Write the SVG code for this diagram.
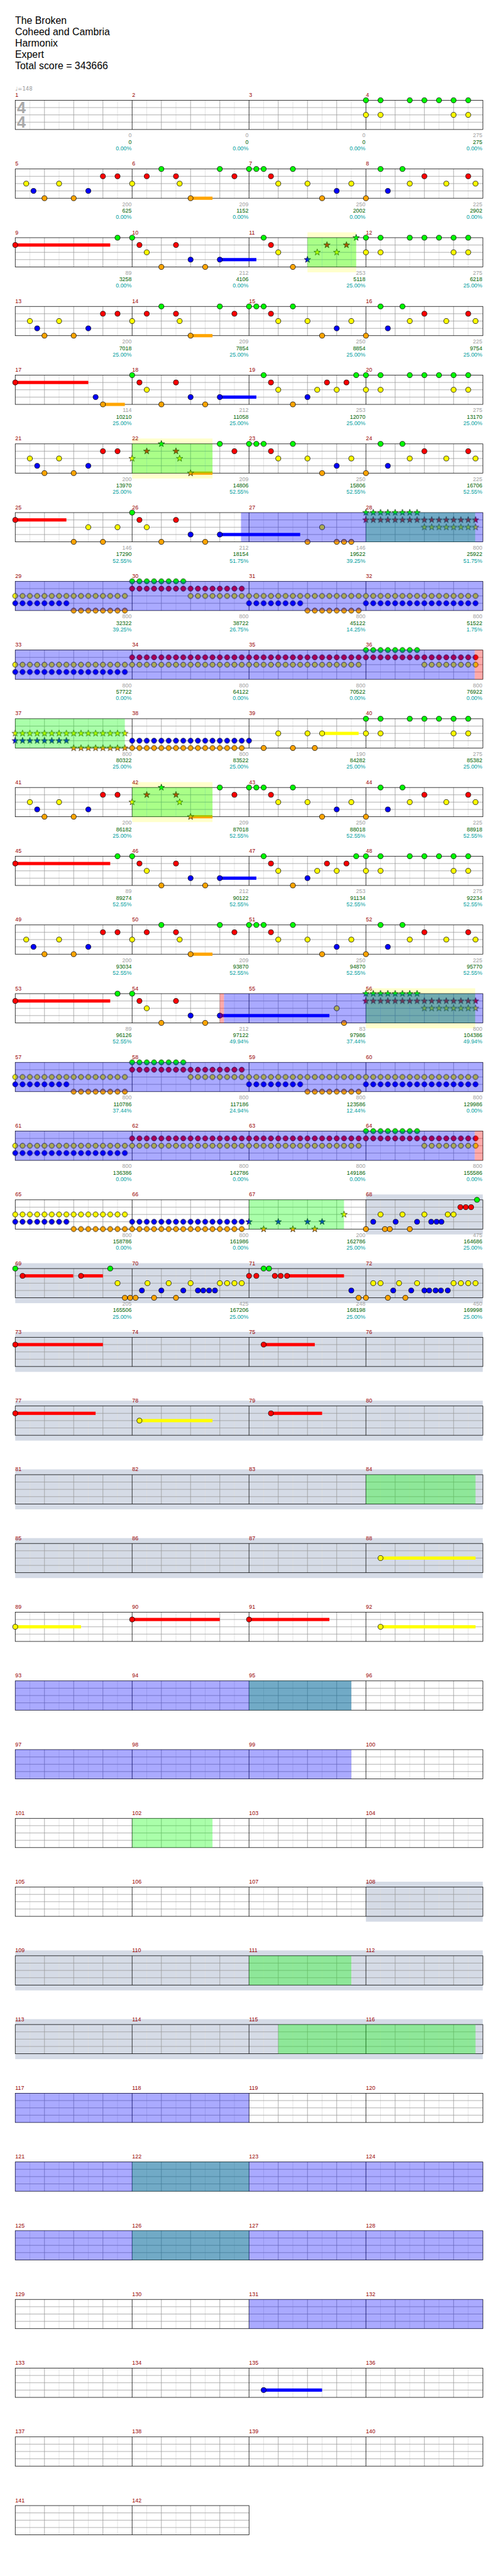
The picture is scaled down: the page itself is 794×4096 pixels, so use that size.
<svg xmlns="http://www.w3.org/2000/svg" width="794" height="4096" viewBox="0 0 794 4096">
<style>
text{font-family:"Liberation Sans",Arial,sans-serif;font-size:11.5px}
.hd{font-size:20.5px;fill:#000}
.n{fill:#900}
.c{fill:#a0a0a0;text-anchor:end}
.s{fill:#006400;text-anchor:end}
.p{fill:#00a0a0;text-anchor:end}
.l1{stroke:#ddd;fill:none}
.l2{stroke:#999;fill:none}
.l3{stroke:#000;fill:none}
.fr{fill:none;stroke:#000}
.ov{fill:#00f;fill-opacity:.333}
.sp{fill:#0f0;fill-opacity:.333}
.ro{fill:#f00;fill-opacity:.333}
.ph{fill:#ffc}
.sl{fill:#d5dbe6}
.sr{fill:#f00}.so{fill:#ffa500}.sb{fill:#00f}.sy{fill:#ff0}
.kG{fill:url(#pG)}.kR{fill:url(#pR)}.kY{fill:url(#pY)}.kB{fill:url(#pB)}.kO{fill:url(#pO)}
.zG{fill:url(#qG)}.zR{fill:url(#qR)}.zY{fill:url(#qY)}.zB{fill:url(#qB)}.zO{fill:url(#qO)}
</style>
<defs>
<circle id="c" r="5.2" stroke="#000"/>
<use id="G" href="#c" fill="#0f0"/>
<use id="R" href="#c" y="15" fill="#f00"/>
<use id="Y" href="#c" y="30" fill="#ff0"/>
<use id="B" href="#c" y="45" fill="#00f"/>
<use id="O" href="#c" y="60" fill="#ffa500"/>
<path id="s" d="M0-7L1.65-2.27 6.66-2.16 2.66.87 4.11 5.66 0 2.8-4.11 5.66-2.66.87-6.66-2.16-1.65-2.27Z" stroke="#000" stroke-width=".8"/>
<use id="sG" href="#s" fill="#0f0"/>
<use id="sR" href="#s" y="15" fill="#f00"/>
<use id="sY" href="#s" y="30" fill="#ff0"/>
<use id="sB" href="#s" y="45" fill="#00f"/>
<use id="sO" href="#s" y="60" fill="#ffa500"/>
<pattern id="pG" width="15" height="15" x="-7.5" y="-7.5" patternUnits="userSpaceOnUse"><use href="#c" x="7.5" y="7.5" fill="#0f0"/></pattern>
<pattern id="pR" width="15" height="15" x="-7.5" y="-7.5" patternUnits="userSpaceOnUse"><use href="#c" x="7.5" y="7.5" fill="#f00"/></pattern>
<pattern id="pY" width="15" height="15" x="-7.5" y="-7.5" patternUnits="userSpaceOnUse"><use href="#c" x="7.5" y="7.5" fill="#ff0"/></pattern>
<pattern id="pB" width="15" height="15" x="-7.5" y="-7.5" patternUnits="userSpaceOnUse"><use href="#c" x="7.5" y="7.5" fill="#00f"/></pattern>
<pattern id="pO" width="15" height="15" x="-7.5" y="-7.5" patternUnits="userSpaceOnUse"><use href="#c" x="7.5" y="7.5" fill="#ffa500"/></pattern>
<pattern id="qG" width="15" height="15" x="-7.5" y="-7.5" patternUnits="userSpaceOnUse"><use href="#s" x="7.5" y="7.5" fill="#0f0"/></pattern>
<pattern id="qR" width="15" height="15" x="-7.5" y="-7.5" patternUnits="userSpaceOnUse"><use href="#s" x="7.5" y="7.5" fill="#f00"/></pattern>
<pattern id="qY" width="15" height="15" x="-7.5" y="-7.5" patternUnits="userSpaceOnUse"><use href="#s" x="7.5" y="7.5" fill="#ff0"/></pattern>
<pattern id="qB" width="15" height="15" x="-7.5" y="-7.5" patternUnits="userSpaceOnUse"><use href="#s" x="7.5" y="7.5" fill="#00f"/></pattern>
<pattern id="qO" width="15" height="15" x="-7.5" y="-7.5" patternUnits="userSpaceOnUse"><use href="#s" x="7.5" y="7.5" fill="#ffa500"/></pattern>
<g id="h"><path class="l1" d="M30 0v60M90 0v60M150 0v60M210 0v60M270 0v60M330 0v60M390 0v60M450 0v60"/><path class="l2" d="M60 0v60M120 0v60M180 0v60M300 0v60M360 0v60M420 0v60M0 15h480M0 30h480M0 45h480"/><path class="l3" d="M240 0v60"/></g>
<g id="st"><use href="#h"/><use href="#h" x="480"/><path class="l3" d="M480 0v60"/><rect class="fr" width="960" height="60"/></g>
<g id="st2"><use href="#h"/><rect class="fr" width="480" height="60"/></g>
<g id="a1"><use href="#O" x="60"/><use href="#Y" x="90"/><use href="#O" x="120"/><use href="#B" x="150"/><use href="#R" x="180"/><use href="#R" x="210"/></g>
<g id="a2"><rect class="so" x="360" y="56.7" width="45" height="6.6"/><use href="#Y" x="240"/><use href="#R" x="270"/><use href="#G" x="300"/><use href="#R" x="330"/><use href="#Y" x="337.5"/><use href="#O" x="360"/></g>
<g id="a2s"><rect class="so" x="360" y="56.7" width="45" height="6.6"/><use href="#sY" x="240"/><use href="#sR" x="270"/><use href="#sG" x="300"/><use href="#sR" x="330"/><use href="#sY" x="337.5"/><use href="#sO" x="360"/><rect class="sp" x="240" width="165" height="60"/></g>
<g id="a3"><use href="#G" x="420"/><use href="#R" x="450"/><use href="#G" x="480"/><use href="#G" x="495"/><use href="#G" x="510"/><use href="#R" x="525"/><use href="#Y" x="540"/><use href="#G" x="570"/><use href="#Y" x="600"/><use href="#O" x="630"/><use href="#B" x="660"/><use href="#Y" x="690"/><use href="#O" x="720"/><use href="#G" x="750"/><use href="#B" x="765"/><use href="#G" x="795"/><use href="#Y" x="810"/><use href="#R" x="840"/><use href="#Y" x="885"/><use href="#R" x="930"/><use href="#Y" x="945"/></g>
<g id="b2"><use href="#G" x="240"/><use href="#R" x="255"/><use href="#Y" x="270"/><use href="#O" x="300"/><use href="#R" x="330"/><use href="#B" x="360"/><use href="#O" x="390"/><use href="#B" x="420"/></g>
<g id="cc"><use href="#G" x="510"/><use href="#R" x="525"/><use href="#Y" x="540"/><use href="#O" x="570"/></g>
<g id="c2"><use href="#B" x="600"/><use href="#Y" x="620"/><use href="#R" x="640"/><use href="#Y" x="660"/><use href="#R" x="680"/><use href="#G" x="700"/></g>
<g id="c2s"><use href="#sB" x="600"/><use href="#sY" x="620"/><use href="#sR" x="640"/><use href="#sY" x="660"/><use href="#sR" x="680"/><use href="#sG" x="700"/><rect class="sp" x="600" width="100" height="60"/></g>
<g id="q"><use href="#G" x="720"/><use href="#G" x="750"/><use href="#G" x="810"/><use href="#G" x="840"/><use href="#G" x="870"/><use href="#G" x="900"/><use href="#G" x="930"/><use href="#Y" x="720"/><use href="#Y" x="750"/><use href="#Y" x="900"/><use href="#Y" x="930"/></g>
<g id="t"><rect class="zG" x="712.5" y="-7.5" width="120" height="15"/><rect class="zR" x="712.5" y="7.5" width="240" height="15"/><rect class="zY" x="832.5" y="22.5" width="120" height="15"/><rect class="sp" x="720" width="224.4" height="60"/></g>
<g id="w7"><rect class="kY" x="-7.5" y="22.5" width="240" height="15"/><rect class="kY" x="352.5" y="22.5" width="600" height="15"/><rect class="kB" x="-7.5" y="37.5" width="120" height="15"/><rect class="kB" x="472.5" y="37.5" width="120" height="15"/><rect class="kB" x="712.5" y="37.5" width="240" height="15"/><rect class="kO" x="112.5" y="52.5" width="120" height="15"/><rect class="kO" x="592.5" y="52.5" width="120" height="15"/><rect class="kR" x="232.5" y="7.5" width="240" height="15"/><rect class="kG" x="232.5" y="-7.5" width="120" height="15"/><rect class="ov" width="960" height="60"/></g>
<g id="w8"><rect class="kY" x="-7.5" y="22.5" width="720" height="15"/><rect class="kY" x="832.5" y="22.5" width="120" height="15"/><rect class="kB" x="-7.5" y="37.5" width="240" height="15"/><rect class="kR" x="232.5" y="7.5" width="720" height="15"/><rect class="kG" x="712.5" y="-7.5" width="120" height="15"/><rect class="ov" width="943.5" height="60"/><rect class="ro" x="943.5" width="16.5" height="60"/></g>
</defs>
<rect width="794" height="4096" fill="#fff"/>
<g transform="scale(.775)">
<g id="header">
<text class="hd" x="31" y="49.5">The Broken</text>
<text class="hd" x="31" y="72.5">Coheed and Cambria</text>
<text class="hd" x="31" y="95.5">Harmonix</text>
<text class="hd" x="31" y="118.5">Expert</text>
<text class="hd" x="31" y="141.5">Total score = 343666</text>
</g>
<g id="r0" transform="translate(31.3,205.7)">
<use href="#st"/>
<text x="3.7" y="26" style="font-size:32.5px;font-weight:bold;fill:#aaa">4</text>
<text x="3.7" y="56.5" style="font-size:32.5px;font-weight:bold;fill:#aaa">4</text>
<text x="0" y="-20" style="fill:#999;font-family:'DejaVu Sans',sans-serif;font-size:11px">♩=148</text>
<use href="#q"/>
<text class="n" y="-7"><tspan x="0">1</tspan><tspan x="240">2</tspan><tspan x="480">3</tspan><tspan x="720">4</tspan></text>
<text class="c" y="76"><tspan x="239">0</tspan><tspan x="479">0</tspan><tspan x="719">0</tspan><tspan x="959">275</tspan></text>
<text class="s" y="89.5"><tspan x="239">0</tspan><tspan x="479">0</tspan><tspan x="719">0</tspan><tspan x="959">275</tspan></text>
<text class="p" y="102.5"><tspan x="239">0.00%</tspan><tspan x="479">0.00%</tspan><tspan x="719">0.00%</tspan><tspan x="959">0.00%</tspan></text>
</g>
<g id="r1" transform="translate(31.3,346.7)">
<use href="#st"/><use href="#Y" x="22.5"/><use href="#B" x="37.5"/><use href="#a1"/><use href="#a2"/><use href="#a3"/>
<text class="n" y="-7"><tspan x="0">5</tspan><tspan x="240">6</tspan><tspan x="480">7</tspan><tspan x="720">8</tspan></text>
<text class="c" y="76"><tspan x="239">200</tspan><tspan x="479">209</tspan><tspan x="719">250</tspan><tspan x="959">225</tspan></text>
<text class="s" y="89.5"><tspan x="239">625</tspan><tspan x="479">1152</tspan><tspan x="719">2002</tspan><tspan x="959">2902</tspan></text>
<text class="p" y="102.5"><tspan x="239">0.00%</tspan><tspan x="479">0.00%</tspan><tspan x="719">0.00%</tspan><tspan x="959">0.00%</tspan></text>
</g>
<g id="r2" transform="translate(31.3,487.7)">
<rect class="ph" x="600" y="-11" width="100" height="82"/>
<use href="#st"/>
<rect class="sr" x="0" y="11.7" width="195" height="6.6"/><rect class="sb" x="420" y="41.7" width="75" height="6.6"/>
<use href="#R" x="0"/><use href="#G" x="210"/><use href="#b2"/><use href="#cc"/><use href="#c2s"/><use href="#q"/>
<text class="n" y="-7"><tspan x="0">9</tspan><tspan x="240">10</tspan><tspan x="480">11</tspan><tspan x="720">12</tspan></text>
<text class="c" y="76"><tspan x="239">89</tspan><tspan x="479">212</tspan><tspan x="719">253</tspan><tspan x="959">275</tspan></text>
<text class="s" y="89.5"><tspan x="239">3258</tspan><tspan x="479">4106</tspan><tspan x="719">5118</tspan><tspan x="959">6218</tspan></text>
<text class="p" y="102.5"><tspan x="239">0.00%</tspan><tspan x="479">0.00%</tspan><tspan x="719">25.00%</tspan><tspan x="959">25.00%</tspan></text>
</g>
<g id="r3" transform="translate(31.3,628.7)">
<use href="#st"/><use href="#Y" x="30"/><use href="#B" x="45"/><use href="#a1"/><use href="#a2"/><use href="#a3"/>
<text class="n" y="-7"><tspan x="0">13</tspan><tspan x="240">14</tspan><tspan x="480">15</tspan><tspan x="720">16</tspan></text>
<text class="c" y="76"><tspan x="239">200</tspan><tspan x="479">209</tspan><tspan x="719">250</tspan><tspan x="959">225</tspan></text>
<text class="s" y="89.5"><tspan x="239">7018</tspan><tspan x="479">7854</tspan><tspan x="719">8854</tspan><tspan x="959">9754</tspan></text>
<text class="p" y="102.5"><tspan x="239">25.00%</tspan><tspan x="479">25.00%</tspan><tspan x="719">25.00%</tspan><tspan x="959">25.00%</tspan></text>
</g>
<g id="r4" transform="translate(31.3,769.7)">
<use href="#st"/>
<rect class="sr" x="0" y="11.7" width="150" height="6.6"/><rect class="so" x="180" y="56.7" width="45" height="6.6"/><rect class="sb" x="420" y="41.7" width="75" height="6.6"/>
<use href="#R" x="0"/><use href="#B" x="165"/><use href="#O" x="180"/><use href="#b2"/><use href="#cc"/><use href="#c2"/><use href="#q"/>
<text class="n" y="-7"><tspan x="0">17</tspan><tspan x="240">18</tspan><tspan x="480">19</tspan><tspan x="720">20</tspan></text>
<text class="c" y="76"><tspan x="239">114</tspan><tspan x="479">212</tspan><tspan x="719">253</tspan><tspan x="959">275</tspan></text>
<text class="s" y="89.5"><tspan x="239">10210</tspan><tspan x="479">11058</tspan><tspan x="719">12070</tspan><tspan x="959">13170</tspan></text>
<text class="p" y="102.5"><tspan x="239">25.00%</tspan><tspan x="479">25.00%</tspan><tspan x="719">25.00%</tspan><tspan x="959">25.00%</tspan></text>
</g>
<g id="r5" transform="translate(31.3,910.7)">
<rect class="ph" x="240" y="-11" width="165" height="82"/>
<use href="#st"/><use href="#Y" x="30"/><use href="#B" x="45"/><use href="#a1"/><use href="#a2s"/><use href="#a3"/>
<text class="n" y="-7"><tspan x="0">21</tspan><tspan x="240">22</tspan><tspan x="480">23</tspan><tspan x="720">24</tspan></text>
<text class="c" y="76"><tspan x="239">200</tspan><tspan x="479">209</tspan><tspan x="719">250</tspan><tspan x="959">225</tspan></text>
<text class="s" y="89.5"><tspan x="239">13970</tspan><tspan x="479">14806</tspan><tspan x="719">15806</tspan><tspan x="959">16706</tspan></text>
<text class="p" y="102.5"><tspan x="239">25.00%</tspan><tspan x="479">52.55%</tspan><tspan x="719">52.55%</tspan><tspan x="959">52.55%</tspan></text>
</g>
<g id="r6" transform="translate(31.3,1051.7)">
<use href="#st"/>
<rect class="sr" x="0" y="11.7" width="105" height="6.6"/><rect class="sb" x="420" y="41.7" width="165" height="6.6"/>
<use href="#R" x="0"/><use href="#O" x="120"/><use href="#Y" x="150"/><use href="#O" x="180"/><use href="#Y" x="210"/><use href="#b2"/><use href="#O" x="600"/><use href="#Y" x="630"/><use href="#O" x="660"/><use href="#O" x="675"/><use href="#O" x="690"/><use href="#t"/>
<rect class="ov" x="463.5" width="496.5" height="60"/>
<text class="n" y="-7"><tspan x="0">25</tspan><tspan x="240">26</tspan><tspan x="480">27</tspan><tspan x="720">28</tspan></text>
<text class="c" y="76"><tspan x="239">146</tspan><tspan x="479">212</tspan><tspan x="719">146</tspan><tspan x="959">800</tspan></text>
<text class="s" y="89.5"><tspan x="239">17290</tspan><tspan x="479">18154</tspan><tspan x="719">19522</tspan><tspan x="959">25922</tspan></text>
<text class="p" y="102.5"><tspan x="239">52.55%</tspan><tspan x="479">51.75%</tspan><tspan x="719">39.25%</tspan><tspan x="959">51.75%</tspan></text>
</g>
<g id="r7" transform="translate(31.3,1192.7)">
<use href="#st"/><use href="#w7"/>
<text class="n" y="-7"><tspan x="0">29</tspan><tspan x="240">30</tspan><tspan x="480">31</tspan><tspan x="720">32</tspan></text>
<text class="c" y="76"><tspan x="239">800</tspan><tspan x="479">800</tspan><tspan x="719">800</tspan><tspan x="959">800</tspan></text>
<text class="s" y="89.5"><tspan x="239">32322</tspan><tspan x="479">38722</tspan><tspan x="719">45122</tspan><tspan x="959">51522</tspan></text>
<text class="p" y="102.5"><tspan x="239">39.25%</tspan><tspan x="479">26.75%</tspan><tspan x="719">14.25%</tspan><tspan x="959">1.75%</tspan></text>
</g>
<g id="r8" transform="translate(31.3,1333.7)">
<use href="#st"/><use href="#w8"/>
<text class="n" y="-7"><tspan x="0">33</tspan><tspan x="240">34</tspan><tspan x="480">35</tspan><tspan x="720">36</tspan></text>
<text class="c" y="76"><tspan x="239">800</tspan><tspan x="479">800</tspan><tspan x="719">800</tspan><tspan x="959">800</tspan></text>
<text class="s" y="89.5"><tspan x="239">57722</tspan><tspan x="479">64122</tspan><tspan x="719">70522</tspan><tspan x="959">76922</tspan></text>
<text class="p" y="102.5"><tspan x="239">0.00%</tspan><tspan x="479">0.00%</tspan><tspan x="719">0.00%</tspan><tspan x="959">0.00%</tspan></text>
</g>
<g id="r9" transform="translate(31.3,1474.7)">
<use href="#st"/>
<rect class="zY" x="-7.5" y="22.5" width="240" height="15"/><rect class="zB" x="-7.5" y="37.5" width="120" height="15"/><rect class="zO" x="112.5" y="52.5" width="120" height="15"/><rect class="sp" x="0" width="225" height="60"/>
<rect class="kB" x="232.5" y="37.5" width="255" height="15"/><rect class="kO" x="232.5" y="52.5" width="240" height="15"/>
<rect class="sy" x="630" y="26.7" width="75" height="6.6"/>
<use href="#O" x="510"/><use href="#Y" x="540"/><use href="#O" x="570"/><use href="#Y" x="600"/><use href="#O" x="615"/><use href="#Y" x="630"/><use href="#q"/>
<text class="n" y="-7"><tspan x="0">37</tspan><tspan x="240">38</tspan><tspan x="480">39</tspan><tspan x="720">40</tspan></text>
<text class="c" y="76"><tspan x="239">800</tspan><tspan x="479">800</tspan><tspan x="719">190</tspan><tspan x="959">275</tspan></text>
<text class="s" y="89.5"><tspan x="239">80322</tspan><tspan x="479">83522</tspan><tspan x="719">84282</tspan><tspan x="959">85382</tspan></text>
<text class="p" y="102.5"><tspan x="239">25.00%</tspan><tspan x="479">25.00%</tspan><tspan x="719">25.00%</tspan><tspan x="959">25.00%</tspan></text>
</g>
<g id="r10" transform="translate(31.3,1615.7)">
<rect class="ph" x="240" y="-11" width="165" height="82"/>
<use href="#st"/><use href="#Y" x="30"/><use href="#B" x="45"/><use href="#a1"/><use href="#a2s"/><use href="#a3"/>
<text class="n" y="-7"><tspan x="0">41</tspan><tspan x="240">42</tspan><tspan x="480">43</tspan><tspan x="720">44</tspan></text>
<text class="c" y="76"><tspan x="239">200</tspan><tspan x="479">209</tspan><tspan x="719">250</tspan><tspan x="959">225</tspan></text>
<text class="s" y="89.5"><tspan x="239">86182</tspan><tspan x="479">87018</tspan><tspan x="719">88018</tspan><tspan x="959">88918</tspan></text>
<text class="p" y="102.5"><tspan x="239">25.00%</tspan><tspan x="479">52.55%</tspan><tspan x="719">52.55%</tspan><tspan x="959">52.55%</tspan></text>
</g>
<g id="r11" transform="translate(31.3,1756.7)">
<use href="#st"/>
<rect class="sr" x="0" y="11.7" width="195" height="6.6"/><rect class="sb" x="420" y="41.7" width="75" height="6.6"/>
<use href="#R" x="0"/><use href="#G" x="210"/><use href="#b2"/><use href="#cc"/><use href="#c2"/><use href="#q"/>
<text class="n" y="-7"><tspan x="0">45</tspan><tspan x="240">46</tspan><tspan x="480">47</tspan><tspan x="720">48</tspan></text>
<text class="c" y="76"><tspan x="239">89</tspan><tspan x="479">212</tspan><tspan x="719">253</tspan><tspan x="959">275</tspan></text>
<text class="s" y="89.5"><tspan x="239">89274</tspan><tspan x="479">90122</tspan><tspan x="719">91134</tspan><tspan x="959">92234</tspan></text>
<text class="p" y="102.5"><tspan x="239">52.55%</tspan><tspan x="479">52.55%</tspan><tspan x="719">52.55%</tspan><tspan x="959">52.55%</tspan></text>
</g>
<g id="r12" transform="translate(31.3,1897.7)">
<use href="#st"/><use href="#Y" x="22.5"/><use href="#B" x="37.5"/><use href="#a1"/><use href="#a2"/><use href="#a3"/>
<text class="n" y="-7"><tspan x="0">49</tspan><tspan x="240">50</tspan><tspan x="480">51</tspan><tspan x="720">52</tspan></text>
<text class="c" y="76"><tspan x="239">200</tspan><tspan x="479">209</tspan><tspan x="719">250</tspan><tspan x="959">225</tspan></text>
<text class="s" y="89.5"><tspan x="239">93034</tspan><tspan x="479">93870</tspan><tspan x="719">94870</tspan><tspan x="959">95770</tspan></text>
<text class="p" y="102.5"><tspan x="239">52.55%</tspan><tspan x="479">52.55%</tspan><tspan x="719">52.55%</tspan><tspan x="959">52.55%</tspan></text>
</g>
<g id="r13" transform="translate(31.3,2038.7)">
<rect class="ph" x="720" y="-11" width="224.4" height="82"/>
<use href="#st"/>
<rect class="sr" x="0" y="11.7" width="195" height="6.6"/><rect class="sb" x="420" y="41.7" width="225" height="6.6"/>
<use href="#R" x="0"/><use href="#G" x="210"/><use href="#b2"/><use href="#Y" x="660"/><use href="#O" x="675"/><use href="#t"/>
<rect class="ro" x="420" width="8.6" height="60"/><rect class="ov" x="428.6" width="531.4" height="60"/>
<text class="n" y="-7"><tspan x="0">53</tspan><tspan x="240">54</tspan><tspan x="480">55</tspan><tspan x="720">56</tspan></text>
<text class="c" y="76"><tspan x="239">89</tspan><tspan x="479">212</tspan><tspan x="719">83</tspan><tspan x="959">800</tspan></text>
<text class="s" y="89.5"><tspan x="239">96126</tspan><tspan x="479">97122</tspan><tspan x="719">97986</tspan><tspan x="959">104386</tspan></text>
<text class="p" y="102.5"><tspan x="239">52.55%</tspan><tspan x="479">49.94%</tspan><tspan x="719">37.44%</tspan><tspan x="959">49.94%</tspan></text>
</g>
<g id="r14" transform="translate(31.3,2179.7)">
<use href="#st"/><use href="#w7"/>
<text class="n" y="-7"><tspan x="0">57</tspan><tspan x="240">58</tspan><tspan x="480">59</tspan><tspan x="720">60</tspan></text>
<text class="c" y="76"><tspan x="239">800</tspan><tspan x="479">800</tspan><tspan x="719">800</tspan><tspan x="959">800</tspan></text>
<text class="s" y="89.5"><tspan x="239">110786</tspan><tspan x="479">117186</tspan><tspan x="719">123586</tspan><tspan x="959">129986</tspan></text>
<text class="p" y="102.5"><tspan x="239">37.44%</tspan><tspan x="479">24.94%</tspan><tspan x="719">12.44%</tspan><tspan x="959">0.00%</tspan></text>
</g>
<g id="r15" transform="translate(31.3,2320.7)">
<use href="#st"/><use href="#w8"/>
<text class="n" y="-7"><tspan x="0">61</tspan><tspan x="240">62</tspan><tspan x="480">63</tspan><tspan x="720">64</tspan></text>
<text class="c" y="76"><tspan x="239">800</tspan><tspan x="479">800</tspan><tspan x="719">800</tspan><tspan x="959">800</tspan></text>
<text class="s" y="89.5"><tspan x="239">136386</tspan><tspan x="479">142786</tspan><tspan x="719">149186</tspan><tspan x="959">155586</tspan></text>
<text class="p" y="102.5"><tspan x="239">0.00%</tspan><tspan x="479">0.00%</tspan><tspan x="719">0.00%</tspan><tspan x="959">0.00%</tspan></text>
</g>
<g id="r16" transform="translate(31.3,2461.7)">
<rect class="sl" x="720" y="-11" width="240" height="82"/>
<use href="#st"/>
<rect class="kY" x="-7.5" y="22.5" width="240" height="15"/><rect class="kB" x="-7.5" y="37.5" width="120" height="15"/><rect class="kO" x="112.5" y="52.5" width="120" height="15"/><rect class="kB" x="232.5" y="37.5" width="240" height="15"/><rect class="kO" x="232.5" y="52.5" width="240" height="15"/>
<use href="#sB" x="480"/><use href="#sB" x="540"/><use href="#sB" x="600"/><use href="#sB" x="630"/><use href="#sO" x="510"/><use href="#sO" x="570"/><use href="#sO" x="615"/><use href="#sY" x="675"/><rect class="sp" x="480" width="195" height="60"/>
<use href="#O" x="720"/><use href="#B" x="735"/><use href="#Y" x="750"/><use href="#O" x="759"/><use href="#O" x="769"/><use href="#B" x="781"/><use href="#Y" x="795"/><use href="#O" x="810"/><use href="#B" x="825"/><use href="#Y" x="840"/><use href="#B" x="854"/><use href="#B" x="865"/><use href="#B" x="875"/><use href="#Y" x="888"/><use href="#Y" x="900"/><use href="#R" x="914"/><use href="#R" x="925"/><use href="#R" x="936"/><use href="#G" x="948"/>
<text class="n" y="-7"><tspan x="0">65</tspan><tspan x="240">66</tspan><tspan x="480">67</tspan><tspan x="720">68</tspan></text>
<text class="c" y="76"><tspan x="239">800</tspan><tspan x="479">800</tspan><tspan x="719">200</tspan><tspan x="959">475</tspan></text>
<text class="s" y="89.5"><tspan x="239">158786</tspan><tspan x="479">161986</tspan><tspan x="719">162786</tspan><tspan x="959">164686</tspan></text>
<text class="p" y="102.5"><tspan x="239">0.00%</tspan><tspan x="479">0.00%</tspan><tspan x="719">25.00%</tspan><tspan x="959">25.00%</tspan></text>
</g>
<g id="r17" transform="translate(31.3,2602.7)">
<rect class="sl" x="0" y="-11" width="960" height="82"/>
<use href="#st"/>
<rect class="sr" x="15" y="11.7" width="104" height="6.6"/><rect class="sr" x="135" y="11.7" width="45" height="6.6"/><rect class="sr" x="558" y="11.7" width="117" height="6.6"/>
<use href="#G" x="0"/><use href="#G" x="195"/><use href="#G" x="510"/><use href="#G" x="521"/>
<use href="#R" x="15"/><use href="#R" x="135"/><use href="#R" x="480"/><use href="#R" x="495"/><use href="#R" x="533"/><use href="#R" x="545"/><use href="#R" x="558"/>
<use href="#Y" x="210"/><use href="#Y" x="271.5"/><use href="#Y" x="315"/><use href="#Y" x="360"/><use href="#Y" x="420"/><use href="#Y" x="435"/><use href="#Y" x="450"/><use href="#Y" x="465"/><use href="#Y" x="735"/><use href="#Y" x="750"/><use href="#Y" x="788"/><use href="#Y" x="825"/><use href="#Y" x="900"/><use href="#Y" x="915"/><use href="#Y" x="930"/><use href="#Y" x="945"/>
<use href="#B" x="260"/><use href="#B" x="300"/><use href="#B" x="345"/><use href="#B" x="375"/><use href="#B" x="386"/><use href="#B" x="398"/><use href="#B" x="410"/><use href="#B" x="690"/><use href="#B" x="776"/><use href="#B" x="813"/><use href="#B" x="840"/><use href="#B" x="850"/><use href="#B" x="863"/><use href="#B" x="874"/><use href="#B" x="888"/>
<use href="#O" x="225"/><use href="#O" x="236"/><use href="#O" x="247"/><use href="#O" x="285"/><use href="#O" x="330"/><use href="#O" x="705"/><use href="#O" x="720"/><use href="#O" x="765"/><use href="#O" x="801"/>
<text class="n" y="-7"><tspan x="0">69</tspan><tspan x="240">70</tspan><tspan x="480">71</tspan><tspan x="720">72</tspan></text>
<text class="c" y="76"><tspan x="239">205</tspan><tspan x="479">425</tspan><tspan x="719">248</tspan><tspan x="959">450</tspan></text>
<text class="s" y="89.5"><tspan x="239">165506</tspan><tspan x="479">167206</tspan><tspan x="719">168198</tspan><tspan x="959">169998</tspan></text>
<text class="p" y="102.5"><tspan x="239">25.00%</tspan><tspan x="479">25.00%</tspan><tspan x="719">25.00%</tspan><tspan x="959">25.00%</tspan></text>
</g>
<g id="r18" transform="translate(31.3,2743.7)"><rect class="sl" x="0" y="-11" width="960" height="82"/><use href="#st"/><rect class="sr" x="0" y="11.7" width="180" height="6.6"/><rect class="sr" x="510" y="11.7" width="105" height="6.6"/><use href="#R" x="0"/><use href="#R" x="510"/><text class="n" y="-7"><tspan x="0">73</tspan><tspan x="240">74</tspan><tspan x="480">75</tspan><tspan x="720">76</tspan></text></g>
<g id="r19" transform="translate(31.3,2884.7)"><rect class="sl" x="0" y="-11" width="960" height="82"/><use href="#st"/><rect class="sr" x="0" y="11.7" width="165" height="6.6"/><rect class="sy" x="255" y="26.7" width="150" height="6.6"/><rect class="sr" x="525" y="11.7" width="105" height="6.6"/><use href="#R" x="0"/><use href="#Y" x="255"/><use href="#R" x="525"/><text class="n" y="-7"><tspan x="0">77</tspan><tspan x="240">78</tspan><tspan x="480">79</tspan><tspan x="720">80</tspan></text></g>
<g id="r20" transform="translate(31.3,3025.7)"><rect class="sl" x="0" y="-11" width="960" height="82"/><use href="#st"/><rect class="sp" x="720" width="225" height="60"/><text class="n" y="-7"><tspan x="0">81</tspan><tspan x="240">82</tspan><tspan x="480">83</tspan><tspan x="720">84</tspan></text></g>
<g id="r21" transform="translate(31.3,3166.7)"><rect class="sl" x="0" y="-11" width="960" height="82"/><use href="#st"/><rect class="sy" x="750" y="26.7" width="195" height="6.6"/><use href="#Y" x="750"/><text class="n" y="-7"><tspan x="0">85</tspan><tspan x="240">86</tspan><tspan x="480">87</tspan><tspan x="720">88</tspan></text></g>
<g id="r22" transform="translate(31.3,3307.7)"><use href="#st"/><rect class="sy" x="0" y="26.7" width="135" height="6.6"/><rect class="sr" x="240" y="11.7" width="180" height="6.6"/><rect class="sr" x="480" y="11.7" width="165" height="6.6"/><rect class="sy" x="750" y="26.7" width="195" height="6.6"/><use href="#Y" x="0"/><use href="#R" x="240"/><use href="#R" x="480"/><use href="#Y" x="750"/><text class="n" y="-7"><tspan x="0">89</tspan><tspan x="240">90</tspan><tspan x="480">91</tspan><tspan x="720">92</tspan></text></g>
<g id="r23" transform="translate(31.3,3448.7)"><use href="#st"/><rect class="sp" x="480" width="210" height="60"/><rect class="ov" x="0" width="690" height="60"/><text class="n" y="-7"><tspan x="0">93</tspan><tspan x="240">94</tspan><tspan x="480">95</tspan><tspan x="720">96</tspan></text></g>
<g id="r24" transform="translate(31.3,3589.7)"><use href="#st"/><rect class="ov" x="0" width="690" height="60"/><text class="n" y="-7"><tspan x="0">97</tspan><tspan x="240">98</tspan><tspan x="480">99</tspan><tspan x="720">100</tspan></text></g>
<g id="r25" transform="translate(31.3,3730.7)"><use href="#st"/><rect class="sp" x="240" width="165" height="60"/><text class="n" y="-7"><tspan x="0">101</tspan><tspan x="240">102</tspan><tspan x="480">103</tspan><tspan x="720">104</tspan></text></g>
<g id="r26" transform="translate(31.3,3871.7)"><rect class="sl" x="720" y="-11" width="240" height="82"/><use href="#st"/><text class="n" y="-7"><tspan x="0">105</tspan><tspan x="240">106</tspan><tspan x="480">107</tspan><tspan x="720">108</tspan></text></g>
<g id="r27" transform="translate(31.3,4012.7)"><rect class="sl" x="0" y="-11" width="960" height="82"/><use href="#st"/><rect class="sp" x="480" width="210" height="60"/><text class="n" y="-7"><tspan x="0">109</tspan><tspan x="240">110</tspan><tspan x="480">111</tspan><tspan x="720">112</tspan></text></g>
<g id="r28" transform="translate(31.3,4153.7)"><rect class="sl" x="0" y="-11" width="960" height="82"/><use href="#st"/><rect class="sp" x="540" width="405" height="60"/><text class="n" y="-7"><tspan x="0">113</tspan><tspan x="240">114</tspan><tspan x="480">115</tspan><tspan x="720">116</tspan></text></g>
<g id="r29" transform="translate(31.3,4294.7)"><use href="#st"/><rect class="ov" x="0" width="480" height="60"/><text class="n" y="-7"><tspan x="0">117</tspan><tspan x="240">118</tspan><tspan x="480">119</tspan><tspan x="720">120</tspan></text></g>
<g id="r30" transform="translate(31.3,4435.7)"><use href="#st"/><rect class="sp" x="240" width="240" height="60"/><rect class="ov" x="0" width="960" height="60"/><text class="n" y="-7"><tspan x="0">121</tspan><tspan x="240">122</tspan><tspan x="480">123</tspan><tspan x="720">124</tspan></text></g>
<g id="r31" transform="translate(31.3,4576.7)"><use href="#st"/><rect class="sp" x="240" width="240" height="60"/><rect class="ov" x="0" width="960" height="60"/><text class="n" y="-7"><tspan x="0">125</tspan><tspan x="240">126</tspan><tspan x="480">127</tspan><tspan x="720">128</tspan></text></g>
<g id="r32" transform="translate(31.3,4717.7)"><use href="#st"/><rect class="ov" x="480" width="480" height="60"/><text class="n" y="-7"><tspan x="0">129</tspan><tspan x="240">130</tspan><tspan x="480">131</tspan><tspan x="720">132</tspan></text></g>
<g id="r33" transform="translate(31.3,4858.7)"><use href="#st"/><rect class="sb" x="510" y="41.7" width="120" height="6.6"/><use href="#B" x="510"/><text class="n" y="-7"><tspan x="0">133</tspan><tspan x="240">134</tspan><tspan x="480">135</tspan><tspan x="720">136</tspan></text></g>
<g id="r34" transform="translate(31.3,4999.7)"><use href="#st"/><text class="n" y="-7"><tspan x="0">137</tspan><tspan x="240">138</tspan><tspan x="480">139</tspan><tspan x="720">140</tspan></text></g>
<g id="r35" transform="translate(31.3,5140.7)"><use href="#st2"/><text class="n" y="-7"><tspan x="0">141</tspan><tspan x="240">142</tspan></text></g>
</g>
</svg>
